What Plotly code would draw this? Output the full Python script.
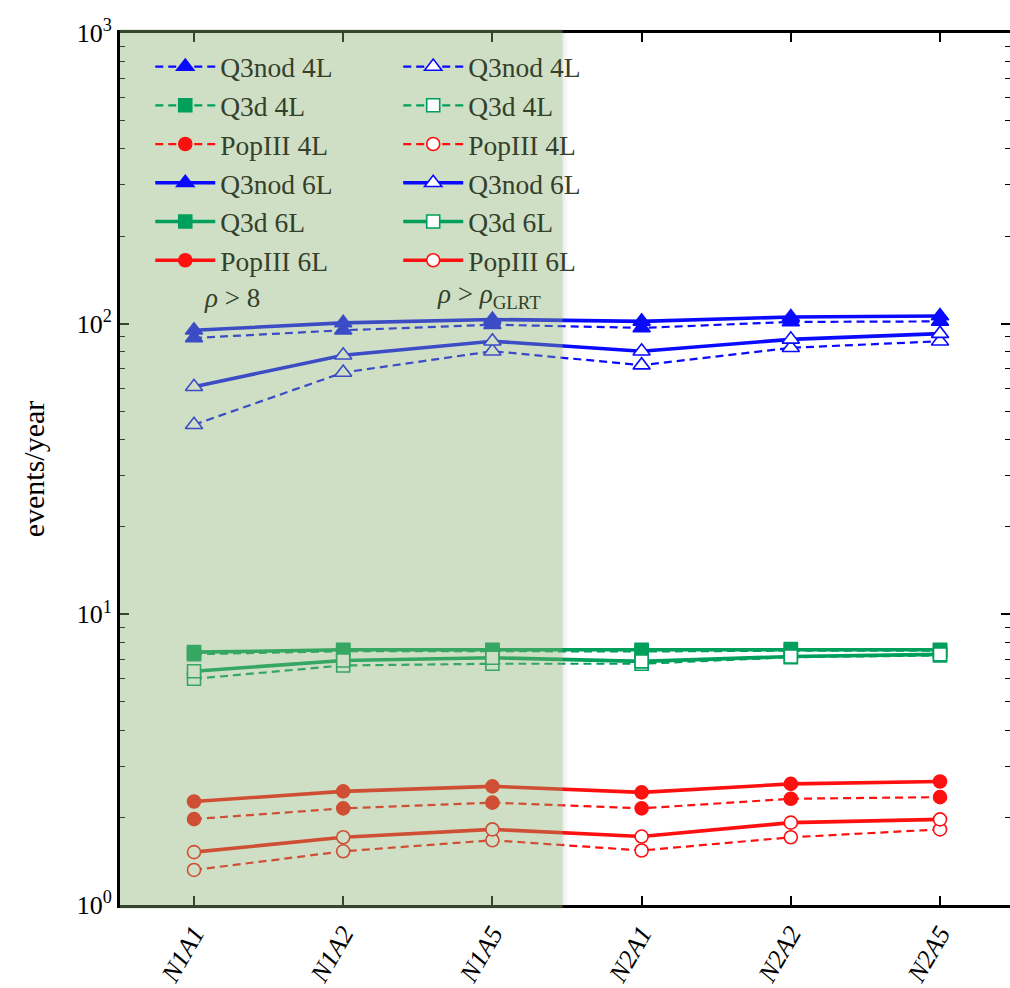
import plotly.graph_objects as go

# Detector configurations along the x axis
configs = ["N1A1", "N1A2", "N1A5", "N2A1", "N2A2", "N2A5"]

# Detection rates (events/year), rho > 8 threshold (filled markers)
q3nod_4l = [89.3, 94.9, 99.2, 96.7, 101.4, 101.8]
q3d_4l = [7.29, 7.47, 7.47, 7.45, 7.50, 7.50]
popiii_4l = [1.975, 2.15, 2.25, 2.15, 2.32, 2.35]
q3nod_6l = [94.9, 100.6, 103.4, 101.8, 105.4, 106.3]
q3d_6l = [7.41, 7.55, 7.55, 7.55, 7.60, 7.55]
popiii_6l = [2.27, 2.46, 2.56, 2.44, 2.61, 2.66]

# Detection rates (events/year), rho > rho_GLRT threshold (open markers)
q3nod_4l_glrt = [44.9, 67.9, 80.4, 72.0, 82.6, 87.0]
q3d_4l_glrt = [6.00, 6.67, 6.76, 6.76, 7.12, 7.22]
popiii_4l_glrt = [1.32, 1.53, 1.67, 1.54, 1.71, 1.82]
q3nod_6l_glrt = [60.7, 77.9, 87.0, 80.4, 88.3, 92.4]
q3d_6l_glrt = [6.37, 6.94, 7.09, 6.89, 7.16, 7.28]
popiii_6l_glrt = [1.52, 1.71, 1.82, 1.72, 1.92, 1.97]

BLUE = "#0a0aff"
GREEN = "#00a05c"
RED = "#ff1010"
FONT = "Liberation Serif"
SHADE_TEXT = "rgb(52,64,42)"

x = list(range(len(configs)))

series = [
    # (name, values, color, symbol, filled, six_layer, legend)
    ("Q3nod 4L", q3nod_4l, BLUE, "triangle-up", True, False, "legend"),
    ("Q3d 4L", q3d_4l, GREEN, "square", True, False, "legend"),
    ("PopIII 4L", popiii_4l, RED, "circle", True, False, "legend"),
    ("Q3nod 6L", q3nod_6l, BLUE, "triangle-up", True, True, "legend"),
    ("Q3d 6L", q3d_6l, GREEN, "square", True, True, "legend"),
    ("PopIII 6L", popiii_6l, RED, "circle", True, True, "legend"),
    ("Q3nod 4L", q3nod_4l_glrt, BLUE, "triangle-up", False, False, "legend2"),
    ("Q3d 4L", q3d_4l_glrt, GREEN, "square", False, False, "legend2"),
    ("PopIII 4L", popiii_4l_glrt, RED, "circle", False, False, "legend2"),
    ("Q3nod 6L", q3nod_6l_glrt, BLUE, "triangle-up", False, True, "legend2"),
    ("Q3d 6L", q3d_6l_glrt, GREEN, "square", False, True, "legend2"),
    ("PopIII 6L", popiii_6l_glrt, RED, "circle", False, True, "legend2"),
]

fig = go.Figure()
for name, vals, color, symbol, filled, six, leg in series:
    size = 15 if symbol == "triangle-up" else 13
    fig.add_trace(go.Scatter(
        x=x, y=vals, name=name, mode="lines+markers", legend=leg,
        line=dict(color=color, width=3.6 if six else 2.2,
                  dash="solid" if six else "8px,5px"),
        marker=dict(symbol=symbol, size=size,
                    color=color if filled else "white",
                    line=dict(color=color, width=1.6)),
    ))

# Invisible trace carrying the right-hand tick marks
fig.add_trace(go.Scatter(x=[x[0]], y=[q3d_6l[0]], yaxis="y2", mode="markers",
                         marker=dict(opacity=0), showlegend=False,
                         hoverinfo="skip"))

# Translucent band over the N1 configurations
fig.add_shape(type="rect", xref="x", yref="paper",
              x0=-0.52, x1=2.47, y0=-0.004, y1=1.004,
              fillcolor="rgba(135,175,110,0.4)", line_width=0, layer="above")
for i, a in enumerate([0.10, 0.06, 0.03]):
    fig.add_shape(type="rect", xref="x", yref="paper",
                  x0=2.47 + i * 0.013, x1=2.47 + (i + 1) * 0.013,
                  y0=-0.004, y1=1.004,
                  fillcolor=f"rgba(90,90,90,{a})", line_width=0, layer="above")

fig.add_annotation(x=0.255, y=2.09, xref="x", yref="y",
                   text="<i>ρ</i> > 8", showarrow=False,
                   font=dict(family=FONT, size=27, color=SHADE_TEXT))
fig.add_annotation(x=1.98, y=2.095, xref="x", yref="y",
                   text="<i>ρ</i> > <i>ρ</i><sub>GLRT</sub>", showarrow=False,
                   font=dict(family=FONT, size=27, color=SHADE_TEXT))

legend_common = dict(
    bgcolor="rgba(0,0,0,0)", borderwidth=0,
    font=dict(family=FONT, size=27.5, color=SHADE_TEXT),
    xanchor="left", yanchor="top", tracegroupgap=0,
    itemwidth=60,
)

fig.update_layout(
    width=1010, height=988,
    margin=dict(l=120, r=0, t=33, b=79),
    paper_bgcolor="white", plot_bgcolor="white",
    font=dict(family=FONT, size=26, color="black"),
    legend=dict(x=0.034, y=0.9895, **legend_common),
    legend2=dict(x=0.3126, y=0.9895, **legend_common),
    showlegend=True,
    yaxis2=dict(
        type="log", range=[0, 3], overlaying="y", side="right",
        tickvals=[1, 10, 100, 1000], showticklabels=False,
        ticks="inside", ticklen=9, tickwidth=1.5, tickcolor="black",
        minor=dict(ticks="inside", ticklen=5, tickwidth=1, tickcolor="black",
                   dtick="D1", showgrid=False),
        showline=False, showgrid=False, zeroline=False,
    ),
    yaxis=dict(
        type="log", range=[0, 3],
        tickvals=[1, 10, 100, 1000],
        ticktext=["10<sup>0</sup>", "10<sup>1</sup>", "10<sup>2</sup>", "10<sup>3</sup>"],
        ticks="inside", ticklen=9, tickwidth=1.5, tickcolor="black",
        minor=dict(ticks="inside", ticklen=5, tickwidth=1, tickcolor="black",
                   dtick="D1", showgrid=False),
        showline=True, linecolor="black", linewidth=3, mirror=False,
        showgrid=False, zeroline=False,
        tickfont=dict(family=FONT, size=26, color="black"),
        title=dict(text="events/year",
                   font=dict(family=FONT, size=30, color="black"),
                   standoff=24),
    ),
)

fig.update_xaxes(
    range=[-0.496, 5.469], tickvals=x,
    ticktext=[f"<i>{c}</i>" for c in configs],
    tickangle=-60, ticks="inside", ticklen=9, tickwidth=1.5,
    tickcolor="black", showline=True, linecolor="black", linewidth=3,
    mirror="ticks", showgrid=False, zeroline=False,
    tickfont=dict(family=FONT, size=26, color="black"),
)

fig.write_html("out.html")
